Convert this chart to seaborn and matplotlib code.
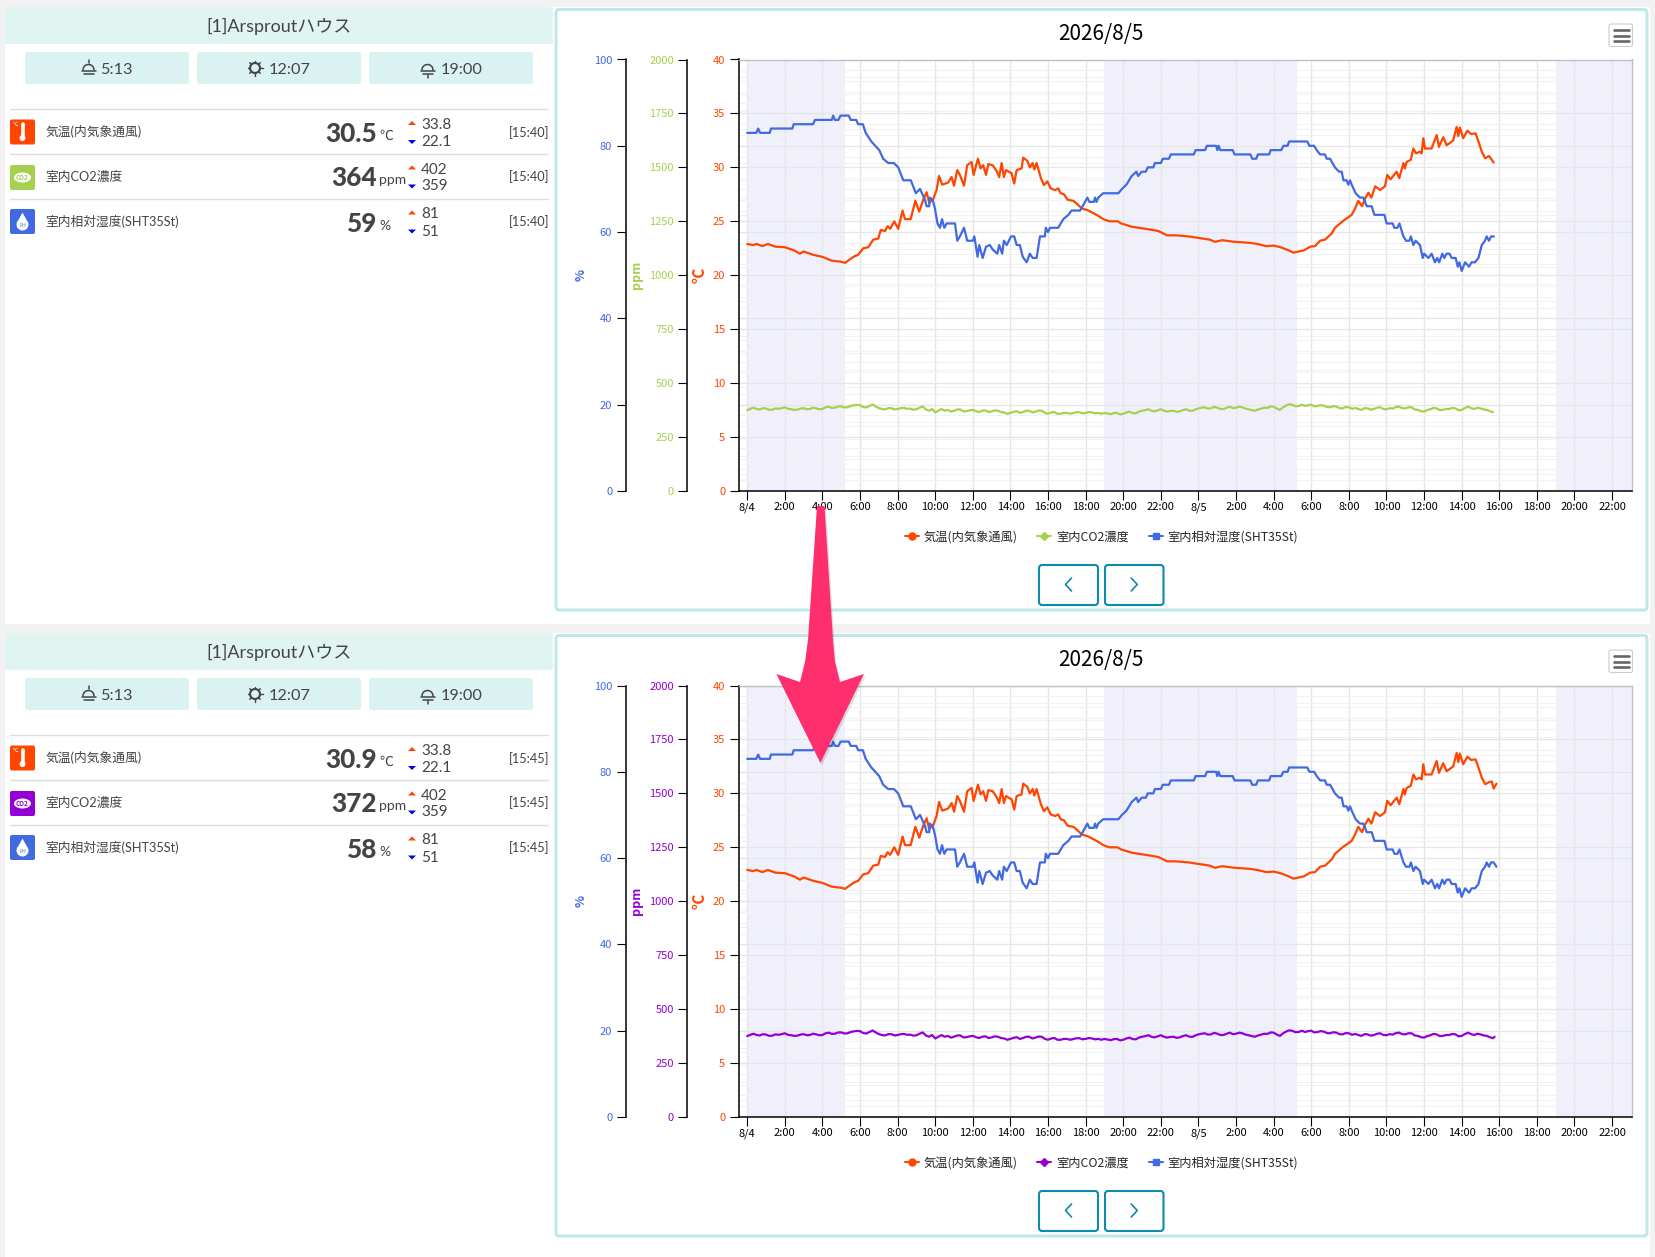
import numpy as np
import matplotlib
matplotlib.use('Agg')
import matplotlib.pyplot as plt
import seaborn as sns
from matplotlib.lines import Line2D
from matplotlib.patches import Circle, FancyBboxPatch, Polygon, Rectangle, Ellipse

# values (x = hours since 8/4 0:00)
temp_hours = [0, 0.3, 0.5, 0.8, 1.1, 1.5, 2.0, 2.5, 2.8, 3.0, 3.5, 4.0, 4.5, 5.0, 5.2, 5.64, 5.9, 6.17, 6.44, 6.7,
              6.97, 7.1, 7.33, 7.47, 7.6, 7.82, 8.03, 8.26, 8.39, 8.69, 8.94, 9.15, 9.36, 9.54, 9.68, 9.9, 10.07,
              10.2, 10.37, 10.69, 10.87, 11.0, 11.17, 11.31, 11.53, 11.7, 11.93, 12.04, 12.27, 12.41, 12.55, 12.7,
              12.82, 13.05, 13.27, 13.4, 13.53, 13.65, 13.76, 14.06, 14.2, 14.33, 14.59, 14.68, 14.9, 15.03, 15.18,
              15.27, 15.39, 15.62, 15.78, 15.96, 16.14, 16.37, 16.54, 16.67, 16.85, 17.04, 17.34, 17.52, 17.79,
              18.14, 18.58, 18.94, 19.26, 19.7, 19.89, 20.45, 21.2, 21.87, 22.33, 22.8, 23.47, 24.03, 24.6, 24.88,
              25.26, 25.92, 26.76, 27.14, 27.61, 27.99, 28.36, 28.74, 29.05, 29.6, 29.94, 30.2, 30.47, 30.73, 31.1,
              31.26, 31.7, 32.15, 32.33, 32.5, 32.7, 32.86, 33.04, 33.2, 33.4, 33.66, 33.92, 34.04, 34.22, 34.4,
              34.54, 34.68, 34.9, 34.98, 35.07, 35.29, 35.43, 35.57, 35.78, 35.87, 35.96, 36.05, 36.4, 36.67, 36.79,
              37.02, 37.2, 37.55, 37.73, 37.82, 37.9, 38.08, 38.3, 38.5, 38.74, 38.93, 39.07, 39.25, 39.46]
temp_c = [22.9, 22.8, 22.9, 22.7, 22.9, 22.65, 22.6, 22.3, 22.0, 22.2, 21.9, 21.7, 21.35, 21.25, 21.15, 21.7, 21.9,
          22.5, 22.6, 23.3, 23.4, 24.2, 24.1, 24.55, 24.3, 25.0, 24.3, 26.0, 25.2, 25.2, 26.9, 25.9, 27.0, 27.7,
          26.7, 27.1, 27.9, 29.2, 28.4, 28.6, 29.1, 28.3, 29.75, 29.3, 28.3, 30.2, 30.5, 29.3, 30.8, 29.9, 30.2,
          29.3, 30.3, 30.2, 29.65, 29.1, 30.4, 29.1, 29.75, 29.45, 28.5, 29.75, 29.9, 30.9, 30.6, 30.0, 30.4, 29.8,
          30.4, 29.0, 28.35, 28.7, 28.05, 27.9, 28.05, 27.6, 27.5, 27.0, 26.9, 26.65, 26.2, 26.0, 25.6, 25.2, 25.0,
          25.0, 24.8, 24.5, 24.3, 24.1, 23.7, 23.7, 23.6, 23.45, 23.3, 23.1, 23.25, 23.1, 23.0, 22.9, 22.7, 22.75,
          22.6, 22.35, 22.1, 22.3, 22.65, 22.7, 23.2, 23.3, 23.9, 24.4, 25.05, 25.6, 26.2, 26.9, 26.4, 27.1, 27.65,
          27.2, 28.25, 27.9, 28.25, 29.3, 28.9, 29.3, 29.6, 29.0, 30.4, 29.9, 30.5, 30.7, 31.75, 31.3, 31.45, 31.3,
          32.7, 31.75, 31.75, 33.0, 31.9, 32.8, 32.05, 32.5, 33.75, 32.9, 33.7, 32.7, 33.4, 33.1, 33.15, 32.2,
          31.45, 30.85, 31.05]
temp_tail_hours = [[39.7], [39.6, 39.7, 39.85]]
temp_tail_c = [[30.45], [31.1, 30.45, 30.9]]

hum_hours = [0, 0.48, 0.58, 0.68, 1.2, 1.26, 2.4, 2.47, 3.5, 3.6, 4.5, 4.57, 4.66, 4.85, 4.96, 5.4, 5.5, 5.8, 5.9,
             6.15, 6.3, 6.6, 7.02, 7.23, 7.5, 7.8, 8.03, 8.3, 8.7, 8.97, 9.19, 9.45, 9.54, 9.68, 9.7, 9.86, 9.98,
             10.12, 10.25, 10.36, 10.48, 10.6, 11.05, 11.17, 11.31, 11.53, 11.7, 12, 12.08, 12.25, 12.34, 12.52,
             12.7, 12.9, 13.05, 13.3, 13.4, 13.56, 13.65, 13.8, 14.03, 14.2, 14.33, 14.5, 14.65, 14.86, 15.03,
             15.18, 15.39, 15.57, 15.83, 15.88, 16, 16.1, 16.54, 16.81, 17.08, 17.25, 17.7, 17.84, 18.09, 18.2,
             18.44, 18.5, 18.58, 18.67, 18.93, 19.74, 19.93, 20.17, 20.45, 20.7, 20.79, 20.98, 21.2, 21.3, 21.6,
             21.68, 22.0, 22.1, 22.43, 22.53, 23.75, 23.85, 24.35, 24.45, 24.94, 25, 25.07, 25.16, 25.82, 25.92,
             26.76, 26.86, 27.07, 27.16, 27.76, 27.84, 28.4, 28.52, 28.74, 28.82, 29.79, 29.9, 30.15, 30.29, 30.47,
             30.73, 30.82, 31, 31.26, 31.48, 31.62, 31.71, 31.88, 31.97, 32.06, 32.15, 32.36, 32.59, 32.77, 32.95,
             33.21, 33.36, 33.89, 34.01, 34.33, 34.42, 34.58, 34.69, 34.9, 35.04, 35.22, 35.3, 35.43, 35.55, 35.78,
             35.93, 36, 36.23, 36.4, 36.58, 36.7, 36.8, 36.97, 37.08, 37.2, 37.35, 37.47, 37.68, 37.79, 37.88, 38,
             38.18, 38.39, 38.53, 38.71, 38.89, 39.07, 39.24, 39.33, 39.45]
hum_pct = [83, 83, 84, 83, 83, 84, 84, 85, 85, 86, 86, 87, 86, 86, 87, 87, 86, 86, 85,
           85, 83, 81, 79, 77, 76, 76, 75, 72, 72, 69, 70, 67.5, 66, 66, 68, 67.5, 65.5,
           62, 61, 63, 61, 62, 62, 58, 59, 61, 58, 58, 59, 54.3, 57, 54,
           56.6, 57, 56, 55, 57, 55, 58, 57, 59, 59, 57, 57, 54.3, 53, 55,
           54, 54, 59, 59, 61, 60, 61, 61, 63, 64, 65, 65, 66, 68, 67,
           67, 68, 67, 68, 69, 69, 70, 71, 73, 74, 73, 74, 74, 75, 75,
           76, 76, 77, 77, 78, 78, 79, 79, 80, 80, 79, 80, 79, 79, 78,
           78, 77, 77, 78, 78, 79, 79, 80, 80, 81, 81, 80, 80, 79, 78,
           78, 77, 77, 75, 74, 74, 72, 72, 71, 72, 71, 69, 68, 68, 66,
           66, 64, 64, 62, 62, 61, 61, 62, 59, 58, 58, 59, 57, 58, 57,
           54, 55, 54, 55, 53, 54, 53, 55, 54, 55, 55, 54, 54, 52, 53, 51,
           53, 52, 53, 53, 54, 57, 58, 59, 58]
hum_tail_hours = [[39.56, 39.72], [39.56, 39.7, 39.85]]
hum_tail_pct = [[59, 59], [59, 59, 58]]

# CO2 read every 10 minutes
co2_ppm = [375, 381, 386, 380, 378, 384, 382, 376, 377, 383, 381, 384, 388, 381, 379, 376, 377, 382, 384, 379,
           380, 386, 383, 379, 380, 388, 391, 385, 386, 392, 392, 387, 388, 394, 397, 399, 398, 389, 387, 394,
           401, 392, 384, 380, 378, 384, 384, 378, 380, 384, 385, 381, 382, 377, 379, 386, 392, 378, 372, 380,
           364, 372, 380, 372, 376, 368, 372, 378, 378, 369, 370, 374, 376, 370, 366, 372, 374, 366, 369, 374,
           372, 366, 364, 358, 362, 367, 370, 362, 366, 372, 372, 364, 368, 373, 372, 362, 358, 364, 366, 358,
           358, 362, 362, 358, 361, 365, 365, 360, 362, 366, 364, 360, 362, 358, 362, 359, 356, 361, 362, 355,
           358, 364, 368, 361, 360, 368, 372, 375, 379, 372, 369, 374, 379, 372, 368, 371, 372, 367, 369, 375,
           379, 373, 371, 378, 383, 386, 388, 382, 383, 390, 386, 380, 380, 386, 391, 384, 386, 391, 388, 382,
           379, 375, 372, 378, 382, 386, 385, 392, 391, 382, 376, 388, 396, 402, 399, 393, 394, 400, 394, 398,
           400, 392, 394, 398, 396, 389, 388, 393, 391, 384, 383, 389, 388, 381, 385, 380, 376, 384, 383, 377,
           380, 386, 388, 380, 379, 384, 382, 389, 391, 384, 383, 388, 388, 378, 376, 370, 368, 375, 379, 385,
           383, 375, 376, 380, 380, 385, 383, 374, 376, 384, 391, 384, 380, 386, 383, 378, 376, 370, 365]
co2_tail_hours = [[], [39.75]]
co2_tail_ppm = [[], [372]]

sunrise_hours = [5.22, 29.22]
sunset_hours = [19.0, 43.0]
x_tick_hours = list(range(0, 48, 2))
x_tick_labels = ['8/4', '2:00', '4:00', '6:00', '8:00', '10:00', '12:00', '14:00', '16:00', '18:00', '20:00', '22:00',
                 '8/5', '2:00', '4:00', '6:00', '8:00', '10:00', '12:00', '14:00', '16:00', '18:00', '20:00', '22:00']
temp_ticks = [0, 5, 10, 15, 20, 25, 30, 35, 40]
co2_ticks = [0, 250, 500, 750, 1000, 1250, 1500, 1750, 2000]
hum_ticks = [0, 20, 40, 60, 80, 100]

series_names = ['気温(内気象通風)', '室内CO2濃度', '室内相対湿度(SHT35St)']
now_times = ['[15:40]', '[15:45]']
now_values = [['30.5', '364', '59'], ['30.9', '372', '58']]
units = ['℃', 'ppm', '%']
max_values = ['33.8', '402', '81']
min_values = ['22.1', '359', '51']
sun_times = ['5:13', '12:07', '19:00']

ORANGE = '#FF4500'
GREEN = '#A5D14F'
PURPLE = '#9400D3'
BLUE = '#4169E1'
co2_colors = [GREEN, PURPLE]
W, H = 1655, 1257
OFFSET = 626  # second screenshot sits this far below the first

sns.set_theme(style='white')
plt.rcParams['font.family'] = ['Noto Sans CJK JP', 'DejaVu Sans']
LATO = ['Lato', 'Noto Sans CJK JP']

fig = plt.figure(figsize=(W / 100, H / 100), dpi=100, facecolor='#F2F2F2')
bg = fig.add_axes([0, 0, 1, 1], zorder=0)
bg.set_xlim(0, W)
bg.set_ylim(H, 0)
bg.axis('off')


def box(ax, x0, y0, x1, y1, fc, ec='none', lw=0, r=3, z=2):
    ax.add_patch(FancyBboxPatch((x0, y0), x1 - x0, y1 - y0, boxstyle=f'round,pad=0,rounding_size={r}',
                                fc=fc, ec=ec, lw=lw, zorder=z))


def sun_icon(kind, cx, cy):
    # small line icons on the three sun buttons
    c = '#444444'
    if kind == 1:
        bg.add_patch(Circle((cx, cy), 5, fc='none', ec=c, lw=1.5, zorder=3))
        for a in np.radians(range(0, 360, 45)):
            bg.plot([cx + 5 * np.cos(a), cx + 7.5 * np.cos(a)], [cy + 5 * np.sin(a), cy + 7.5 * np.sin(a)],
                    color=c, lw=1, zorder=3)
        return
    t = np.linspace(np.pi, 2 * np.pi, 20)
    bg.plot(cx + 5.5 * np.cos(t), cy + 2 + 5.5 * np.sin(t), color=c, lw=1.1, zorder=3)
    bg.plot([cx - 7, cx + 7], [cy + 2.5, cy + 2.5], color=c, lw=1.1, zorder=3)
    bg.plot([cx - 5, cx + 5], [cy + 5.5, cy + 5.5], color=c, lw=1.1, zorder=3)
    if kind == 0:
        bg.plot([cx, cx], [cy - 8, cy - 5], color=c, lw=1.1, zorder=3)
    else:
        bg.plot([cx, cx], [cy + 7, cy + 10], color=c, lw=1.1, zorder=3)


def row_icon(i, y0, color):
    box(bg, 10, y0, 35, y0 + 25, color, r=2)
    cx, cy = 22.5, y0 + 12.5
    if i == 0:
        bg.plot([cx, cx], [cy - 8, cy + 4], color='white', lw=2.6, solid_capstyle='round', zorder=3)
        bg.add_patch(Circle((cx, cy + 6), 3, fc='white', ec='none', zorder=3))
        bg.text(cx - 7, cy - 7, '℃', color='white', fontsize=4, ha='center', va='center', zorder=3)
    elif i == 1:
        bg.add_patch(Ellipse((cx, cy), 17, 10, fc='white', ec='none', zorder=3))
        bg.text(cx, cy, 'CO2', color=color, fontsize=4.5, ha='center', va='center', weight='bold', zorder=4)
    else:
        t = np.linspace(-0.25 * np.pi, 1.25 * np.pi, 30)
        drop_x = np.r_[cx, cx + 6 * np.cos(t)]
        drop_y = np.r_[cy - 9, cy + 3 + 6 * np.sin(t)]
        bg.add_patch(Polygon(np.c_[drop_x, drop_y], fc='white', ec='none', zorder=3))
        bg.text(cx, cy + 4, 'RH', color=color, fontsize=3.5, ha='center', va='center', zorder=4)


def draw_left(p):
    dy = p * OFFSET
    box(bg, 5, 7 + dy, 553, 44 + dy, '#E0F4F2', r=2)
    bg.text(279, 26 + dy, '[1]Arsproutハウス', family=LATO, fontsize=13, color='#444444', ha='center', va='center', zorder=3)
    for j, (x0, x1) in enumerate([(25, 189), (197, 361), (369, 533)]):
        box(bg, x0, 52 + dy, x1, 84 + dy, '#DAF2F1', r=3)
        bg.text(x0 + [75.5, 72, 72][j], 70 + dy, sun_times[j], family=LATO, fontsize=11.7, color='#444444', va='center', zorder=3)
        sun_icon(j, x0 + [63.5, 58, 58.5][j], 68 + dy)
    colors = [ORANGE, co2_colors[p], BLUE]
    for i, y in enumerate([132, 176.5, 221.5]):
        y += dy
        bg.plot([10, 548], [y - 23, y - 23], color='#DDDDDD', lw=1, zorder=3)
        row_icon(i, y - 12.5 + [0, 1, 0][i], colors[i])
        bg.text(45, y, series_names[i], family=LATO, fontsize=9.2, color='#444444', va='center', zorder=3)
        bg.text(377, y + 2, now_values[p][i], family=LATO, fontsize=18.8, weight=900, color='#444444',
                ha='right', va='center', zorder=3)
        bg.text(379.5, y + 4, units[i], family=LATO, fontsize=10, color='#444444', va='center', zorder=3)
        bg.add_patch(Polygon([[408, y - 7], [416, y - 7], [412, y - 11]], fc=ORANGE, ec='none', zorder=3))
        bg.add_patch(Polygon([[408, y + 8], [416, y + 8], [412, y + 12]], fc='#0000EE', ec='none', zorder=3))
        bg.text(421, y - 7, max_values[i], family=LATO, fontsize=11, color='#444444', va='center', zorder=3)
        bg.text(421, y + 10, min_values[i], family=LATO, fontsize=11, color='#444444', va='center', zorder=3)
        bg.text(549, y + 0.5, now_times[p], family=LATO, fontsize=9.2, color='#444444', ha='right', va='center', zorder=3)


def draw_chrome(p):
    dy = p * OFFSET
    box(bg, 556, 9.5 + dy, 1647, 610 + dy, 'white', ec='#BEE9E8', lw=2.2, r=3)
    # menu button
    box(bg, 1609, 24 + dy, 1632.5, 46.5 + dy, 'white', ec='#CCCCCC', lw=0.8, r=2, z=3)
    for yy in [30, 35.7, 41]:
        bg.plot([1613.5, 1629], [yy + dy, yy + dy], color='#666666', lw=1.9, zorder=4)
    # previous / next buttons
    for x0, x1, sign in [(1039, 1098, 1), (1105, 1163.5, -1)]:
        box(bg, x0, 565 + dy, x1, 605 + dy, 'white', ec='#0E8AB0', lw=1.5, r=3, z=3)
        cx = (x0 + x1) / 2
        bg.plot([cx + sign * 3, cx - sign * 3, cx + sign * 3], [578 + dy, 584.5 + dy, 591 + dy], color='#0E8AB0', lw=1.2, zorder=4)


def draw_chart(p):
    top, bottom = 59.5 + p * OFFSET, 491 + p * OFFSET
    left, right = 738.6, 1632.4
    ax = fig.add_axes([left / W, 1 - bottom / H, (right - left) / W, (bottom - top) / H], zorder=2 + p)
    ax.patch.set_alpha(0)
    co2_color = co2_colors[p]

    for start, stop in [(0, sunrise_hours[0]), (sunset_hours[0], sunrise_hours[1]), (sunset_hours[1], 47.08)]:
        ax.axvspan(start, stop, color='#F0F0FD', lw=0, zorder=0)

    # gridlines of all three y axes live on the temperature axis so they stay under the lines
    ax.set_yticks(temp_ticks)
    ax.set_yticks([v for v in range(0, 41) if v % 5], minor=True)
    ax.hlines([v * 0.4 for v in range(0, 101, 4) if v % 20], -0.46, 47.08, color='#F2F2F2', lw=0.8, zorder=0.5)
    ax.hlines([v * 0.4 for v in hum_ticks], -0.46, 47.08, color='#E6E6E6', lw=0.9, zorder=0.6)
    ax.grid(True, which='major', axis='y', color='#E6E6E6', lw=0.9)
    ax.grid(True, which='minor', axis='y', color='#F2F2F2', lw=0.8)
    ax.set_xticks(x_tick_hours)
    ax.set_xticklabels(x_tick_labels)
    ax.grid(True, which='major', axis='x', color='#E6E6E6', lw=1)
    ax.set_axisbelow(True)

    sns.lineplot(x=temp_hours + temp_tail_hours[p], y=temp_c + temp_tail_c[p], ax=ax, color=ORANGE, lw=1.6,
                 estimator=None, legend=False)

    ax2 = ax.twinx()
    ax2.patch.set_alpha(0)
    co2_hours = list(np.arange(len(co2_ppm)) / 6) + co2_tail_hours[p]
    sns.lineplot(x=co2_hours, y=co2_ppm + co2_tail_ppm[p], ax=ax2, color=co2_color, lw=1.6, estimator=None, legend=False)

    ax3 = ax.twinx()
    ax3.patch.set_alpha(0)
    sns.lineplot(x=hum_hours + hum_tail_hours[p], y=hum_pct + hum_tail_pct[p], ax=ax3, color=BLUE, lw=1.6,
                 estimator=None, legend=False)

    ax.set_xlim(-0.46, 47.08)
    ax.set_ylim(0, 40)
    ax2.set_ylim(0, 2000)
    ax3.set_ylim(0, 100)
    ax2.set_yticks(co2_ticks)
    ax3.set_yticks(hum_ticks)

    for a, color, name, pos, lx in [(ax, ORANGE, '℃', 0, -0.0347), (ax2, co2_color, 'ppm', 36.8, -0.1067),
                                    (ax3, BLUE, '%', 81.3, -0.1691)]:
        a.yaxis.tick_left()
        a.yaxis.set_label_position('left')
        for s in ['top', 'right', 'bottom']:
            a.spines[s].set_visible(False)
        a.spines['left'].set_visible(True)
        a.spines['left'].set_color('black')
        a.spines['left'].set_linewidth(1.1)
        a.spines['left'].set_position(('outward', pos))
        a.tick_params(axis='y', which='major', left=True, length=6.5, width=0.8, color='black', labelcolor=color,
                      labelsize=8, pad=3.2)
        a.tick_params(axis='y', which='minor', left=False)
        plt.setp(a.get_yticklabels(), va='center_baseline')
        a.set_ylabel(name, color=color, fontsize=9 if name != '℃' else 11, fontweight='bold')
        a.yaxis.set_label_coords(lx, 0.5)

    ax.spines['bottom'].set_visible(True)
    ax.spines['bottom'].set_color('black')
    ax.spines['bottom'].set_linewidth(1.1)
    for s in ['top', 'right']:
        ax.spines[s].set_visible(True)
        ax.spines[s].set_color('#C0C0C0')
        ax.spines[s].set_linewidth(1)
    ax.tick_params(axis='x', bottom=True, length=6.5, width=0.8, color='black', labelcolor='black', labelsize=8, pad=1.5)
    ax.set_xlabel('')

    ax.text(0.405, 1.0 + 26 / 431.5, '2026/8/5', transform=ax.transAxes, fontsize=15, color='black', ha='center',
            va='center')
    handles = [Line2D([], [], color=ORANGE, lw=1.45, marker='o', ms=5),
               Line2D([], [], color=co2_color, lw=1.45, marker='D', ms=3.8),
               Line2D([], [], color=BLUE, lw=1.45, marker='s', ms=4.6)]
    ax.legend(handles, series_names, ncol=3, loc='center', bbox_to_anchor=(0.406, -0.106), frameon=False, fontsize=8.8,
              handlelength=1.15, handletextpad=0.4, columnspacing=1.6, borderpad=0)


# white page areas behind the two screenshots
bg.add_patch(Rectangle((5, 7), W - 10, 617, fc='white', ec='none', zorder=1))
bg.add_patch(Rectangle((5, 633), W - 10, H - 633, fc='white', ec='none', zorder=1))

for p in [0, 1]:
    draw_left(p)
    draw_chrome(p)
    draw_chart(p)

# pink arrow lying over both screenshots
top_ax = fig.add_axes([0, 0, 1, 1], zorder=10)
top_ax.set_xlim(0, W)
top_ax.set_ylim(H, 0)
top_ax.axis('off')
arrow = np.array([[817, 506], [824.5, 506], [833, 640], [835, 662], [840, 682], [864, 674], [820.4, 763],
                  [776.4, 674], [800, 682], [805, 662], [808, 640]])
top_ax.add_patch(Polygon(arrow + [1.5, 2.5], fc='black', alpha=0.12, ec='none'))
top_ax.add_patch(Polygon(arrow, fc='#FF2F6E', ec='none'))

fig.savefig('out.png', dpi=100, facecolor=fig.get_facecolor())
